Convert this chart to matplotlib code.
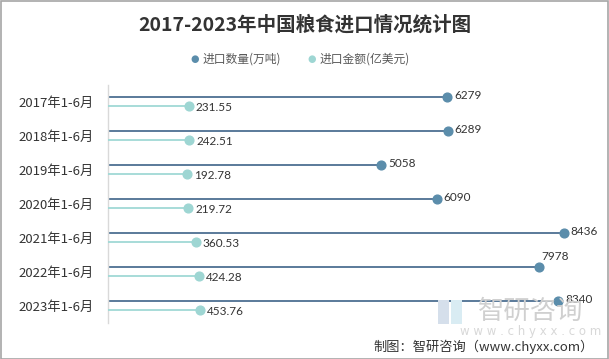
import matplotlib
matplotlib.use("Agg")
import matplotlib.pyplot as plt
from matplotlib.patches import Rectangle

plt.rcParams['font.family'] = ['Noto Sans CJK SC', 'DejaVu Sans']

categories = ["2017年1-6月", "2018年1-6月", "2019年1-6月", "2020年1-6月",
              "2021年1-6月", "2022年1-6月", "2023年1-6月"]
quantity = [6279, 6289, 5058, 6090, 8436, 7978, 8340]      # 进口数量(万吨)
amount = [231.55, 242.51, 192.78, 219.72, 360.53, 424.28, 453.76]  # 进口金额(亿美元)

title = "2017-2023年中国粮食进口情况统计图"
legend_labels = ["进口数量(万吨)", "进口金额(亿美元)"]
source = "制图：智研咨询（www.chyxx.com）"

c_q_line = "#4d6f92"
c_q_mark = "#5b8dab"
c_a_line = "#a0d9d6"
c_a_mark = "#9ed6d3"

W, H = 609, 359
fig = plt.figure(figsize=(W / 100, H / 100), dpi=100)
fig.patch.set_facecolor("white")

# watermark (behind everything)
fig.text(531 / W, 1 - 311 / H, "智研咨询", ha='center', va='center', fontsize=19,
         color="#d0d0d0", zorder=0)
fig.text(531 / W, 1 - 332 / H, "w w w . c h y x x . c o m", ha='center', va='center',
         fontsize=8.5, color="#d8d8d8", zorder=0, family='DejaVu Sans')
fig.patches.append(Rectangle((438 / W, 1 - 324 / H), 11 / W, 24 / H, transform=fig.transFigure,
                             facecolor="#d5dfeb", edgecolor='none', zorder=0))
fig.patches.append(Rectangle((451 / W, 1 - 324 / H), 11 / W, 24 / H, transform=fig.transFigure,
                             facecolor="#d9ecf3", edgecolor='none', zorder=0))

left, right, top, bottom = 108, 594, 85, 323
ax = fig.add_axes([left / W, 1 - bottom / H, (right - left) / W, (bottom - top) / H])
ax.patch.set_alpha(0)
ax2 = ax.twiny()
ax2.patch.set_alpha(0)

n = len(categories)
ys = list(range(n))
dq, da = -0.16, 0.13

ax.set_xlim(0, 9000)
ax2.set_xlim(-1350, 8150)
ax.set_ylim(n - 0.5, -0.5)

for i, (q, a) in enumerate(zip(quantity, amount)):
    yq = ys[i] + dq
    ya = ys[i] + da
    ax.plot([0, q], [yq, yq], color=c_q_line, lw=1.3, solid_capstyle='butt', zorder=2)
    ax.plot([q], [yq], 'o', color=c_q_mark, ms=6.3, zorder=3)
    ax2.plot([-1350, a], [ya, ya], color=c_a_line, lw=1.3, solid_capstyle='butt', zorder=2)
    ax2.plot([a], [ya], 'o', color=c_a_mark, ms=6.3, zorder=3)
    if q == 7978:
        ax.annotate(f"{q}", (q, yq), xytext=(2, 7), textcoords='offset points',
                    fontsize=8.5, color="#333333", va='center', ha='left', family='Lato')
    else:
        ax.annotate(f"{q}", (q, yq), xytext=(5, 1), textcoords='offset points',
                    fontsize=8.5, color="#333333", va='center', ha='left', family='Lato')
    ax2.annotate(f"{a:.2f}", (a, ya), xytext=(5, -0.5), textcoords='offset points',
                 fontsize=8.5, color="#333333", va='center', ha='left', family='Lato')

for a_ in (ax, ax2):
    for s in a_.spines.values():
        s.set_visible(False)
    a_.set_xticks([])
ax.spines['left'].set_visible(True)
ax.spines['left'].set_color("#d9d9d9")
ax.spines['left'].set_linewidth(1)
ax.set_yticks(ys)
ax.set_yticklabels(categories, fontsize=9.5, color="#333333")
ax.tick_params(axis='y', length=0, pad=10.5)
ax2.set_ylim(n - 0.5, -0.5)

# title
fig.text(W / 2 / W, 1 - 25 / H, title, ha='center', va='center', fontsize=14,
         fontweight='bold', color="#333333")

# legend
ly = 1 - 59 / H
fig.text(195 / W, ly, "●", ha='center', va='center', fontsize=7, color=c_q_mark,
         family='DejaVu Sans')
fig.text(203 / W, ly, legend_labels[0], ha='left', va='center', fontsize=8.5, color="#595959")
fig.text(312 / W, ly, "●", ha='center', va='center', fontsize=7, color=c_a_mark,
         family='DejaVu Sans')
fig.text(320 / W, ly, legend_labels[1], ha='left', va='center', fontsize=8.5, color="#595959")

# source
fig.text(594 / W, 1 - 347 / H, source, ha='right', va='center', fontsize=9.5, color="#333333")

# border
fig.patches.append(Rectangle((0.5 / W, 0.5 / H), (W - 1.5) / W, (H - 1.5) / H,
                             transform=fig.transFigure, facecolor='none',
                             edgecolor="#a6a6a6", lw=1.2, zorder=10))

fig.savefig("out.png", dpi=100)
